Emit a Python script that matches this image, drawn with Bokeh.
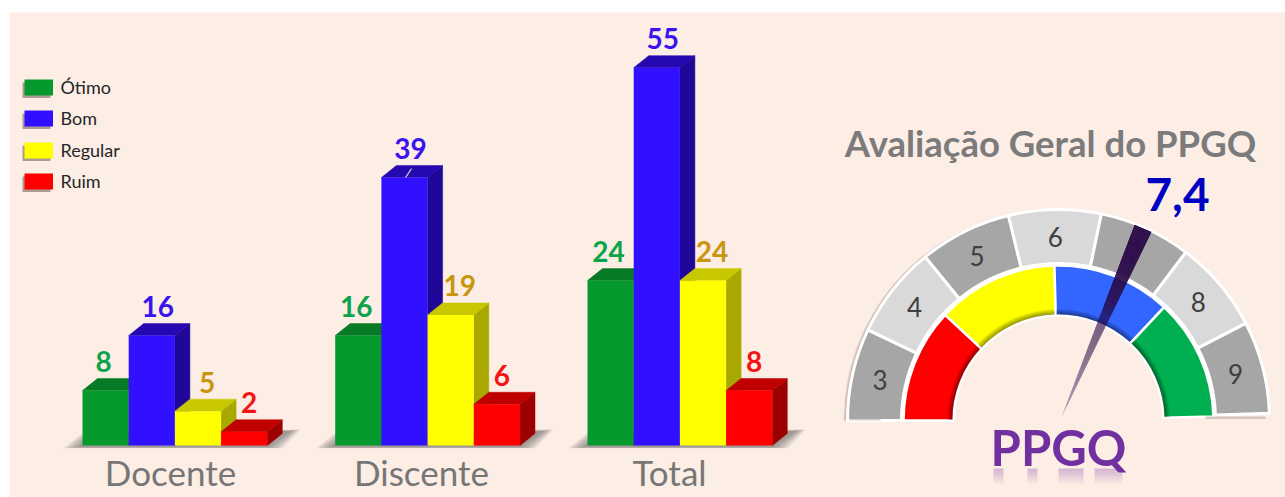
import numpy as np
from bokeh.plotting import figure
from bokeh.models import Range1d
from bokeh.core.properties import value
from bokeh.embed import file_html
from bokeh.resources import INLINE

# ---------- data ----------
categories = ["Docente", "Discente", "Total"]
levels = ["Ótimo", "Bom", "Regular", "Ruim"]
otimo = [8, 16, 24]
bom = [16, 39, 55]
regular = [5, 19, 24]
ruim = [2, 6, 8]
gauge_scores = [3, 4, 5, 6, 7, 8, 9]
gauge_value_label = "7,4"
gauge_title = "Avaliação Geral do PPGQ"
gauge_name = "PPGQ"
band_names = ["Ruim", "Regular", "Bom", "Ótimo"]

# ---------- styles ----------
front = ["#069a2e", "#3010ff", "#ffff00", "#ff0000"]
top_c = ["#067a24", "#2608b0", "#c8c800", "#c00000"]
side_c = ["#057022", "#1f0798", "#a8a800", "#9c0000"]
label_c = ["#0ca34a", "#3a14ee", "#c8960c", "#f41414"]
label_dx = [-2, 6, 9, 5]
band_c = ["#ff0000", "#ffff00", "#3366ff", "#00b050"]
band_edges = [180, 137, 91.5, 47, 1.5]
BG = "#fcede5"
FONT = value("Lato")

PX_PER_UNIT = 6.87
BASE_PY = 445
to_val = lambda py: (BASE_PY - py) / PX_PER_UNIT

p = figure(width=1285, height=497, output_backend="svg", toolbar_location=None,
           x_range=Range1d(0, 1285), y_range=Range1d(to_val(497), to_val(0)),
           x_axis_type=None, y_axis_type=None, min_border=0,
           outline_line_color=None, background_fill_color="white", border_fill_color="white")
p.grid.visible = False
p.extra_y_ranges = {"px": Range1d(497, 0)}
PX = dict(y_range_name="px")

# page panel
p.quad(left=[9], right=[1285], top=[12], bottom=[497], fill_color=BG, line_color=None, **PX)

# ---------- bars ----------
BAR_W = 46.2
DX, DY = 15, 12 / PX_PER_UNIT
group_x = [82, 334.7, 587]
cat_x = [170, 421, 669]
series = [otimo, bom, regular, ruim]

for x0 in group_x:
    # floor shadow, several nested layers for the soft edge
    for k in range(6):
        ins = k * 3.0
        p.patch([x0 - 19 + ins, x0 + 1 + ins * .6, x0 + 218 - ins * .6, x0 + 200 - ins],
                [447.8 - k * .2, 432 + k * .3, 429 + k * .3, 447.8 - k * .2],
                fill_color="#606060", fill_alpha=0.13, line_color=None, **PX)

for g, x0 in enumerate(group_x):
    for i, s in enumerate(series):
        v = s[g]
        l, r = x0 + i * BAR_W, x0 + (i + 1) * BAR_W
        p.patch([r, r + DX, r + DX, r], [0, DY, v + DY, v], fill_color=side_c[i], line_color=side_c[i], line_width=0.5)
        p.patch([l, l + DX, r + DX, r], [v, v + DY, v + DY, v], fill_color=top_c[i], line_color=top_c[i], line_width=0.5)
        p.quad(left=[l], right=[r], bottom=[0], top=[v], fill_color=front[i], line_color=None)
        p.text([(l + r) / 2 + label_dx[i]], [v + DY], text=[str(v)], text_font=FONT, text_font_style="bold",
               text_font_size="28px", text_color=label_c[i], text_align="center", text_baseline="middle", y_offset=-17)
    p.text([cat_x[g]], [471.5], text=[categories[g]], text_font=FONT, text_font_size="35px",
           text_color="#767676", text_align="center", text_baseline="middle", **PX)

# leader stub on the tall Discente bar
i39 = group_x[1] + 1.5 * BAR_W
p.segment([i39 + 1], [bom[1]], [i39 + 7], [bom[1] + 9 / PX_PER_UNIT], line_color="#c9c4d8", line_width=1.2)

# ---------- legend ----------
leg_y = [79, 110, 142, 173]
for name, c, y in zip(levels, front, leg_y):
    p.quad(left=[22], right=[50], top=[y + 3], bottom=[y + 18.5], fill_color="#6a5a50", fill_alpha=0.55, line_color=None, **PX)
    p.quad(left=[24], right=[52.5], top=[y], bottom=[y + 16], fill_color=c, line_color=None, **PX)
    p.text([60], [y + 7], text=[name], text_font=FONT, text_font_size="18px", text_color="#262626",
           text_align="left", text_baseline="middle", **PX)

# ---------- gauge ----------
CX, CY = 1058, 420
R_OUT, R_MID, R_IN = 211, 157, 105
span = 178 / 7
ang = lambda s: np.radians(180 - (s - gauge_scores[0] + 0.5) * span)


def ring(start, end, r0, r1, color, alpha=1.0, line=None, lw=0):
    p.annular_wedge([CX], [CY], inner_radius=r0, outer_radius=r1, start_angle=start, end_angle=end,
                    direction="anticlock", fill_color=color, fill_alpha=alpha, line_color=line,
                    line_width=lw, **PX)


# left soft shadow
for k in range(4):
    p.annular_wedge([CX - 1 - k], [CY], inner_radius=205, outer_radius=211, start_angle=np.radians(100),
                    end_angle=np.radians(180), fill_color="#5a4a40", fill_alpha=0.14, line_color=None, **PX)

for s in gauge_scores:
    c = "#a6a6a6" if s % 2 else "#d9d9d9"
    ring(ang(s + 0.5), ang(s - 0.5), R_MID, R_OUT, c, line="white", lw=3)
for i, c in enumerate(band_c):
    a0, a1 = np.radians(band_edges[i + 1]), np.radians(band_edges[i])
    ring(a0, a1, R_IN, R_MID - 2, c, line="white", lw=2.5)
    # bevel on the inner rim
    for k in range(5):
        ring(a0 + 0.005, a1 - 0.005, R_IN + 1, R_IN + 1 + (5 - k) * 1.1, "#000000", alpha=0.09)

for s in gauge_scores:
    a = ang(s)
    p.text([CX + 183 * np.cos(a)], [CY - 184 * np.sin(a)], text=[str(s)], text_font=FONT, text_font_size="26px",
           text_color="#404040", text_align="center", text_baseline="middle", **PX)

# base strips
p.quad(left=[849, 1205], right=[880, 1265], top=[418.5, 416], bottom=[420, 418.5], fill_color="#b8aca4",
       fill_alpha=0.6, line_color=None, **PX)

# needle: layered so that it fades toward its tip
tip = np.array([1060.0, 419.0])
head = np.array([1142.5, 228.0])
u = head - tip
n = np.array([-u[1], u[0]]) / np.hypot(*u)
HW = 9.0
fs = np.linspace(0.02, 0.80, 30)
target = np.interp(fs, [0, 0.08, 0.25, 0.5, 0.6, 0.8], [0.2, 0.4, 0.5, 0.62, 0.88, 0.96])
prev = 0.0
for f, t in zip(fs, target):
    a = 1 - (1 - t) / (1 - prev)
    prev = t
    b = tip + u * f
    xs = [b[0] + n[0] * HW * f, head[0] + n[0] * HW, head[0] - n[0] * HW, b[0] - n[0] * HW * f]
    ys = [b[1] + n[1] * HW * f, head[1] + n[1] * HW, head[1] - n[1] * HW, b[1] - n[1] * HW * f]
    p.patch(xs, ys, fill_color="#30104f", fill_alpha=a, line_color=None, **PX)

# gauge texts
p.text([1050], [142], text=[gauge_title], text_font=FONT, text_font_style="bold", text_font_size="36.5px",
       text_color="#7b7b7b", text_align="center", text_baseline="middle", **PX)
p.text([1177], [194], text=[gauge_value_label], text_font=FONT, text_font_style="bold", text_font_size="46px",
       text_color="#0000c0", text_align="center", text_baseline="middle", **PX)
p.text([1058], [446], text=[gauge_name], text_font=FONT, text_font_style="bold", text_font_size="49px",
       text_color="#7030a0", text_align="center", text_baseline="middle", **PX)
# faint reflection of the name
for l, r in [(993, 1003), (1027, 1037), (1058, 1083), (1094, 1122)]:
    for k in range(6):
        p.quad(left=[l], right=[r], top=[468 + k * 2.5], bottom=[470.5 + k * 2.5], fill_color="#7030a0",
               fill_alpha=0.28 * (1 - k / 6), line_color=None, **PX)

open("out.html", "w").write(file_html(p, INLINE))
